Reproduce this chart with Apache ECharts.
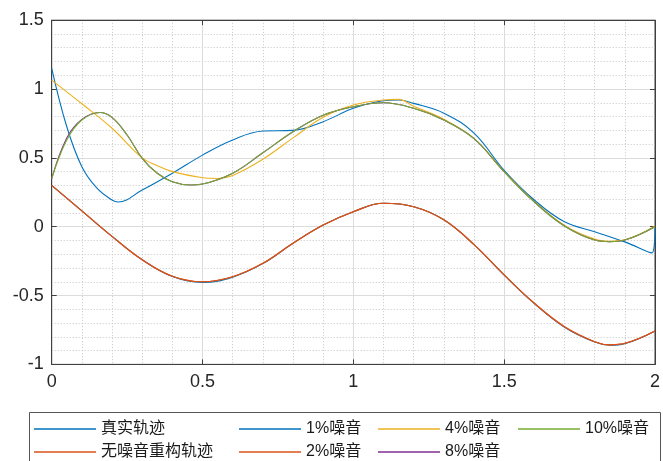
<!DOCTYPE html>
<html>
<head>
<meta charset="utf-8">
<script src="https://cdn.jsdelivr.net/npm/echarts@6/dist/echarts.min.js"></script>
<style>
html, body { margin: 0; padding: 0; background: #fff; }
#chart { width: 663px; height: 461px; }
</style>
</head>
<body>
<div id="chart"></div>
<script>
// 下方曲线：真实轨迹 / 无噪音重构轨迹 / 2%噪音
var lowX    = [0, 0.1, 0.2, 0.3, 0.4, 0.5, 0.6, 0.7, 0.8, 0.9, 1.0, 1.1, 1.2, 1.3, 1.4, 1.5, 1.6, 1.7, 1.8, 1.85, 1.9, 2.0];
var trueY   = [0.30, 0.115, -0.07, -0.24, -0.362, -0.405, -0.366, -0.268, -0.12, 0.012, 0.109, 0.17, 0.145, 0.05, -0.13, -0.352, -0.558, -0.73, -0.838, -0.86, -0.849, -0.757];
var reconY  = [0.30, 0.115, -0.07, -0.24, -0.36, -0.40, -0.363, -0.266, -0.12, 0.012, 0.109, 0.17, 0.145, 0.05, -0.13, -0.35, -0.556, -0.726, -0.835, -0.858, -0.847, -0.757];
var n2Y     = [0.30, 0.115, -0.07, -0.24, -0.36, -0.40, -0.363, -0.266, -0.12, 0.012, 0.109, 0.17, 0.145, 0.05, -0.13, -0.35, -0.556, -0.726, -0.835, -0.858, -0.847, -0.757];

// 1%噪音
var n1X = [0, 0.05, 0.1, 0.15, 0.2, 0.22, 0.3, 0.4, 0.5, 0.6, 0.7, 0.8, 0.9, 1.0, 1.1, 1.15, 1.2, 1.3, 1.4, 1.5, 1.6, 1.7, 1.8, 1.9, 1.99, 2.0];
var n1Y = [1.15, 0.726, 0.436, 0.28, 0.194, 0.18, 0.266, 0.388, 0.52, 0.63, 0.695, 0.70, 0.763, 0.86, 0.915, 0.92, 0.896, 0.825, 0.68, 0.41, 0.194, 0.036, -0.036, -0.11, -0.19, -0.01];

// 4%噪音
var n4X = [0, 0.1, 0.2, 0.3, 0.35, 0.4, 0.5, 0.55, 0.6, 0.7, 0.8, 0.9, 1.0, 1.1, 1.15, 1.2, 1.3, 1.4, 1.5, 1.6, 1.7, 1.8, 1.85, 1.9, 2.0];
var n4Y = [1.065, 0.893, 0.715, 0.50, 0.443, 0.40, 0.356, 0.35, 0.372, 0.49, 0.645, 0.795, 0.884, 0.92, 0.925, 0.875, 0.78, 0.642, 0.40, 0.182, 0.01, -0.09, -0.105, -0.095, 0.005];

// 8%噪音 与 10%噪音
var n10X = [0, 0.05, 0.1, 0.16, 0.2, 0.25, 0.3, 0.35, 0.4, 0.46, 0.5, 0.6, 0.7, 0.8, 0.9, 1.0, 1.1, 1.2, 1.3, 1.4, 1.5, 1.6, 1.7, 1.8, 1.85, 1.9, 2.0];
var n8Y  = [0.35, 0.645, 0.78, 0.83, 0.794, 0.666, 0.497, 0.388, 0.327, 0.303, 0.31, 0.388, 0.537, 0.69, 0.81, 0.871, 0.90, 0.86, 0.775, 0.64, 0.40, 0.18, 0.005, -0.097, -0.109, -0.097, 0.0];
var n10Y = [0.35, 0.63, 0.775, 0.83, 0.794, 0.666, 0.497, 0.388, 0.327, 0.303, 0.31, 0.388, 0.537, 0.69, 0.81, 0.871, 0.90, 0.86, 0.775, 0.64, 0.40, 0.18, 0.005, -0.097, -0.109, -0.097, 0.0];

function pairs(xs, ys) {
    return xs.map(function (x, i) { return [x, ys[i]]; });
}

var fontLatin = '"Liberation Sans", Arial, "Noto Sans CJK SC", sans-serif';
var axisCol = '#404040';

function line(name, color, xs, ys) {
    return {
        name: name,
        type: 'line',
        data: pairs(xs, ys),
        smooth: 0.4,
        symbol: 'none',
        lineStyle: { color: color, width: 1.1 },
        itemStyle: { color: color },
        animation: false
    };
}

function legendCol(left, names) {
    return {
        orient: 'vertical',
        left: left,
        top: 421,
        padding: 0,
        itemWidth: 62,
        itemHeight: 16,
        itemGap: 7,
        icon: 'path://M0,0L62,0L62,1.3L0,1.3Z',
        data: names,
        textStyle: { fontSize: 16, lineHeight: 16, color: '#1a1a1a', fontFamily: fontLatin }
    };
}

var mychart = echarts.init(document.getElementById('chart'));
var option = {
    backgroundColor: '#fff',
    animation: false,
    grid: {
        left: 51.7, right: 5.9, top: 20.2, bottom: 96.6,
        show: true, borderColor: axisCol, borderWidth: 1, backgroundColor: 'transparent'
    },
    xAxis: [{
        type: 'value', min: 0, max: 2, interval: 0.5,
        axisLine: { show: true, onZero: false, lineStyle: { color: axisCol } },
        axisTick: { show: true, inside: true, length: 5, lineStyle: { color: axisCol } },
        axisLabel: { fontSize: 18, color: '#262626', margin: 9, fontFamily: fontLatin },
        splitLine: { show: true, lineStyle: { color: '#dcdcdc', width: 1 } },
        minorTick: { show: false, splitNumber: 5 },
        minorSplitLine: { show: true, lineStyle: { color: '#c6c6c6', width: 1, type: [1, 2] } }
    }, {
        type: 'value', min: 0, max: 2, interval: 0.5, position: 'top',
        axisLine: { show: true, onZero: false, lineStyle: { color: axisCol } },
        axisTick: { show: true, inside: true, length: 5, lineStyle: { color: axisCol } },
        axisLabel: { show: false }, splitLine: { show: false }
    }],
    yAxis: [{
        type: 'value', min: -1, max: 1.5, interval: 0.5,
        axisLine: { show: true, onZero: false, lineStyle: { color: axisCol } },
        axisTick: { show: true, inside: true, length: 5, lineStyle: { color: axisCol } },
        axisLabel: { fontSize: 18, color: '#262626', margin: 8, fontFamily: fontLatin },
        splitLine: { show: true, lineStyle: { color: '#dcdcdc', width: 1 } },
        minorTick: { show: false, splitNumber: 5 },
        minorSplitLine: { show: true, lineStyle: { color: '#c6c6c6', width: 1, type: [1, 2] } }
    }, {
        type: 'value', min: -1, max: 1.5, interval: 0.5, position: 'right',
        axisLine: { show: true, onZero: false, lineStyle: { color: axisCol } },
        axisTick: { show: true, inside: true, length: 5, lineStyle: { color: axisCol } },
        axisLabel: { show: false }, splitLine: { show: false }
    }],
    legend: [
        legendCol(34, ['真实轨迹', '无噪音重构轨迹']),
        legendCol(239, ['1%噪音', '2%噪音']),
        legendCol(378, ['4%噪音', '8%噪音']),
        legendCol(518, ['10%噪音'])
    ],
    graphic: [{
        type: 'rect',
        shape: { x: 29.5, y: 412.5, width: 631, height: 60 },
        style: { fill: 'none', stroke: '#555', lineWidth: 1 },
        silent: true, z: 100
    }],
    series: [
        line('真实轨迹', '#0072BD', lowX, trueY),
        line('1%噪音', '#0072BD', n1X, n1Y),
        line('4%噪音', '#EDB120', n4X, n4Y),
        line('8%噪音', '#7E2F8E', n10X, n8Y),
        line('10%噪音', '#77AC30', n10X, n10Y),
        line('无噪音重构轨迹', '#D95319', lowX, reconY),
        line('2%噪音', '#D95319', lowX, n2Y)
    ]
};
mychart.setOption(option);
</script>
</body>
</html>
